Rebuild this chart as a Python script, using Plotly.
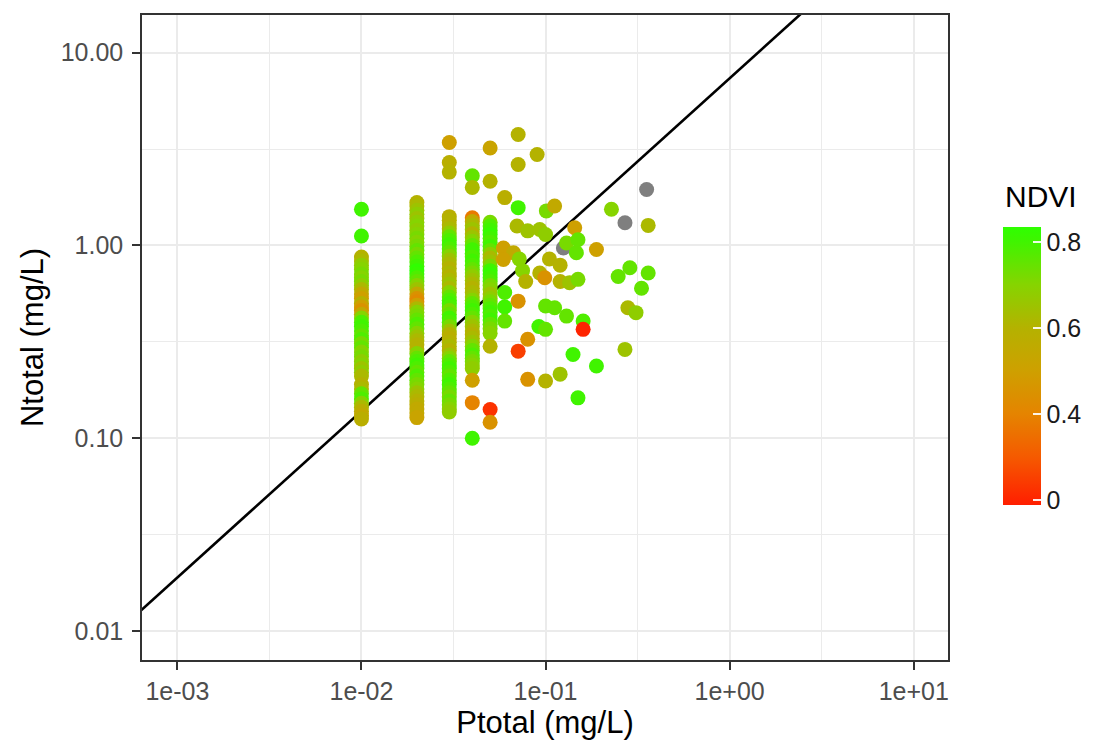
import numpy as np
import plotly.graph_objects as go

# ---------------- data ----------------
# vertical "columns" of samples at fixed Ptotal values: (Ntotal, NDVI)
col_p001 = [(1.54, 0.8), (1.12, 0.8),
            (0.87, 0.6), (0.83, 0.62), (0.79, 0.68), (0.75, 0.7), (0.71, 0.72), (0.68, 0.7),
            (0.65, 0.72), (0.62, 0.68), (0.59, 0.62), (0.56, 0.55), (0.53, 0.5), (0.50, 0.6),
            (0.48, 0.5), (0.46, 0.45), (0.44, 0.55), (0.42, 0.7), (0.40, 0.78), (0.38, 0.8),
            (0.36, 0.78), (0.34, 0.75), (0.325, 0.78), (0.31, 0.72), (0.295, 0.75), (0.28, 0.7),
            (0.265, 0.72), (0.25, 0.68), (0.24, 0.7), (0.23, 0.65), (0.22, 0.68), (0.21, 0.62),
            (0.19, 0.6), (0.18, 0.62), (0.17, 0.75), (0.16, 0.78), (0.152, 0.7), (0.145, 0.62),
            (0.138, 0.58), (0.131, 0.55), (0.126, 0.58)]

col_p002 = [(1.67, 0.6), (1.6, 0.62), (1.52, 0.65), (1.45, 0.68), (1.38, 0.65), (1.32, 0.68),
            (1.26, 0.7), (1.2, 0.68), (1.14, 0.7), (1.09, 0.72), (1.04, 0.7), (0.99, 0.72),
            (0.94, 0.75), (0.9, 0.72), (0.86, 0.75), (0.82, 0.78), (0.78, 0.8), (0.74, 0.83),
            (0.71, 0.82), (0.68, 0.78), (0.65, 0.75), (0.62, 0.7), (0.59, 0.65), (0.56, 0.55),
            (0.53, 0.45), (0.51, 0.42), (0.49, 0.5), (0.47, 0.62), (0.45, 0.7), (0.43, 0.72),
            (0.41, 0.75), (0.39, 0.78), (0.37, 0.75), (0.35, 0.7), (0.335, 0.65), (0.32, 0.62),
            (0.305, 0.6), (0.29, 0.6), (0.275, 0.7), (0.26, 0.75), (0.25, 0.78), (0.24, 0.8),
            (0.23, 0.78), (0.22, 0.75), (0.21, 0.78), (0.2, 0.75), (0.19, 0.72), (0.18, 0.7),
            (0.172, 0.65), (0.164, 0.62), (0.156, 0.6), (0.149, 0.58), (0.142, 0.55),
            (0.135, 0.55), (0.128, 0.52)]

col_p003 = [(3.42, 0.5), (2.69, 0.58), (2.4, 0.6),
            (1.41, 0.58), (1.35, 0.6), (1.28, 0.6), (1.22, 0.62), (1.16, 0.68), (1.11, 0.75),
            (1.06, 0.78), (1.01, 0.8), (0.96, 0.78), (0.92, 0.75), (0.88, 0.7), (0.84, 0.65),
            (0.8, 0.62), (0.76, 0.6), (0.72, 0.62), (0.69, 0.6), (0.66, 0.62), (0.63, 0.65),
            (0.6, 0.62), (0.57, 0.7), (0.54, 0.75), (0.52, 0.78), (0.5, 0.8), (0.48, 0.78),
            (0.46, 0.72), (0.44, 0.75), (0.42, 0.8), (0.4, 0.78), (0.38, 0.72), (0.36, 0.65),
            (0.345, 0.6), (0.33, 0.58), (0.315, 0.6), (0.3, 0.62), (0.285, 0.6), (0.27, 0.65),
            (0.26, 0.7), (0.25, 0.75), (0.24, 0.78), (0.23, 0.8), (0.22, 0.78), (0.21, 0.75),
            (0.2, 0.78), (0.19, 0.8), (0.18, 0.78), (0.172, 0.75), (0.164, 0.72), (0.156, 0.75),
            (0.149, 0.72), (0.142, 0.7), (0.137, 0.68)]

col_p004 = [(2.3, 0.75), (2.0, 0.62), (1.39, 0.35),
            (1.33, 0.55), (1.27, 0.62), (1.21, 0.65), (1.15, 0.6), (1.1, 0.65), (1.05, 0.7),
            (1.0, 0.75), (0.95, 0.8), (0.91, 0.8), (0.87, 0.78), (0.83, 0.8), (0.79, 0.78),
            (0.75, 0.75), (0.72, 0.72), (0.69, 0.68), (0.66, 0.65), (0.63, 0.62), (0.6, 0.6),
            (0.57, 0.62), (0.54, 0.65), (0.52, 0.7), (0.5, 0.75), (0.48, 0.78), (0.46, 0.8),
            (0.44, 0.78), (0.42, 0.75), (0.4, 0.7), (0.38, 0.65), (0.36, 0.62), (0.345, 0.6),
            (0.33, 0.62), (0.315, 0.65), (0.3, 0.7), (0.285, 0.75), (0.27, 0.78), (0.26, 0.75),
            (0.25, 0.72), (0.24, 0.7), (0.23, 0.68),
            (0.2, 0.5), (0.153, 0.4), (0.10, 0.8)]

col_p005 = [(3.2, 0.52), (2.15, 0.6),
            (1.32, 0.72), (1.26, 0.78), (1.2, 0.8), (1.14, 0.82), (1.09, 0.8), (1.04, 0.78),
            (0.99, 0.8), (0.94, 0.75), (0.9, 0.68), (0.86, 0.62), (0.82, 0.65), (0.78, 0.72),
            (0.74, 0.8), (0.71, 0.82), (0.68, 0.8), (0.65, 0.78), (0.62, 0.72), (0.59, 0.7),
            (0.56, 0.65), (0.53, 0.68), (0.51, 0.72), (0.49, 0.75), (0.47, 0.78), (0.45, 0.8),
            (0.43, 0.78), (0.41, 0.8), (0.39, 0.75), (0.37, 0.72), (0.35, 0.7),
            (0.30, 0.6), (0.141, 0.05), (0.121, 0.45)]

columns = {0.01: col_p001, 0.02: col_p002, 0.03: col_p003, 0.04: col_p004, 0.05: col_p005}

# scattered samples: (Ptotal, Ntotal, NDVI)
scattered = [(0.071, 3.76, 0.6), (0.09, 2.96, 0.6), (0.071, 2.63, 0.6), (0.06, 1.77, 0.58),
             (0.071, 1.57, 0.8), (0.101, 1.51, 0.72), (0.112, 1.6, 0.55), (0.228, 1.54, 0.7),
             (0.361, 1.27, 0.62), (0.07, 1.26, 0.62), (0.08, 1.19, 0.65), (0.093, 1.21, 0.65),
             (0.1, 1.14, 0.68), (0.144, 1.235, 0.5), (0.13, 1.03, 0.72), (0.15, 1.07, 0.75),
             (0.147, 0.917, 0.75), (0.189, 0.953, 0.5), (0.059, 0.97, 0.5), (0.067, 0.917, 0.55),
             (0.059, 0.846, 0.5), (0.072, 0.85, 0.7), (0.105, 0.85, 0.6), (0.12, 0.79, 0.6),
             (0.075, 0.74, 0.7), (0.06, 0.57, 0.78), (0.06, 0.48, 0.8), (0.093, 0.72, 0.6),
             (0.078, 0.65, 0.6), (0.099, 0.68, 0.45), (0.12, 0.65, 0.6), (0.135, 0.64, 0.65),
             (0.15, 0.667, 0.72), (0.248, 0.69, 0.75), (0.287, 0.766, 0.75), (0.332, 0.60, 0.75),
             (0.361, 0.72, 0.75), (0.28, 0.475, 0.62), (0.31, 0.448, 0.68), (0.071, 0.514, 0.45),
             (0.1, 0.485, 0.75), (0.112, 0.475, 0.75), (0.13, 0.43, 0.75), (0.092, 0.38, 0.8),
             (0.1, 0.367, 0.75), (0.16, 0.405, 0.78), (0.16, 0.367, 0.0), (0.08, 0.326, 0.45),
             (0.071, 0.283, 0.1), (0.06, 0.405, 0.75), (0.141, 0.272, 0.8), (0.27, 0.289, 0.65),
             (0.189, 0.237, 0.8), (0.08, 0.202, 0.45), (0.1, 0.198, 0.6), (0.12, 0.215, 0.65),
             (0.15, 0.162, 0.8)]

# samples with missing NDVI (drawn grey)
na_ptotal = [0.354, 0.27, 0.125]
na_ntotal = [1.95, 1.31, 0.97]

# reference line in log10 space: log10(N) = intercept + slope * log10(P)
line_intercept = 0.867
line_slope = 0.863

# colour-bar tick labels and their (non-linear) scale positions
ndvi_ticks = [0.0, 0.4, 0.6, 0.8]
ndvi_tick_text = ["0", "0.4", "0.6", "0.8"]

x_tickvals = [1e-3, 1e-2, 1e-1, 1e0, 1e1]
x_ticktext = ["1e-03", "1e-02", "1e-01", "1e+00", "1e+01"]
y_tickvals = [0.01, 0.1, 1.0, 10.0]
y_ticktext = ["0.01", "0.10", "1.00", "10.00"]

# ---------------- assemble ----------------
ptotal, ntotal, ndvi = [], [], []
for p, pts in columns.items():
    for n, v in pts:
        ptotal.append(p); ntotal.append(n); ndvi.append(v)
for p, n, v in scattered:
    ptotal.append(p); ntotal.append(n); ndvi.append(v)

# non-linear colour scale: 0, 0.4, 0.6, 0.8 equally spaced on the bar
def ndvi_pos(v):
    return np.interp(v, [-0.4, 0.0, 0.4, 0.6, 0.8, 1.0], [-1, 0, 1, 2, 3, 4])

cpos = ndvi_pos(np.array(ndvi))
tick_pos = [float(ndvi_pos(t)) for t in ndvi_ticks]
cmin, cmax = -0.06, 3.17

colorscale = [
    [0.0, "#FF1E00"],
    [0.173, "#F55A00"],
    [0.328, "#E58400"],
    [0.483, "#CEA000"],
    [0.638, "#B4B200"],
    [0.793, "#86D400"],
    [0.947, "#40F400"],
    [1.0, "#2EFF00"],
]

FONT = "Liberation Sans, Arial, sans-serif"

# plot-area geometry (pixels) used to place the colour-bar title
PL, PR, PT, PB = 142, 948, 15, 660

fig = go.Figure()

# reference line
lx = np.array([10 ** -3.4, 10 ** 1.4])
ly = 10 ** (line_intercept + line_slope * np.log10(lx))
fig.add_trace(go.Scatter(x=lx, y=ly, mode="lines",
                         line=dict(color="black", width=2.6),
                         hoverinfo="skip", showlegend=False))

# grey samples (NDVI missing)
fig.add_trace(go.Scatter(x=na_ptotal, y=na_ntotal, mode="markers", showlegend=False,
                         marker=dict(size=15, color="#7F7F7F", line=dict(width=0))))

fig.add_trace(go.Scatter(
    x=ptotal, y=ntotal, mode="markers", showlegend=False,
    marker=dict(
        size=15, color=cpos, colorscale=colorscale, cmin=cmin, cmax=cmax,
        line=dict(width=0), opacity=1,
        colorbar=dict(
            xref="container", x=1003 / 1120, xanchor="left",
            yref="container", y=1 - 262 / 744, yanchor="top",
            lenmode="pixels", len=278, thicknessmode="pixels", thickness=38,
            xpad=0, ypad=0, outlinewidth=0,
            tickmode="array", tickvals=tick_pos, ticktext=ndvi_tick_text,
            ticks="inside", ticklen=8, tickwidth=2, tickcolor="rgba(255,255,255,0.9)",
            tickfont=dict(size=25, color="#1A1A1A", family=FONT),
        ),
    ),
))

axis_common = dict(
    type="log", showline=True, mirror=True, linecolor="#333333", linewidth=1.5,
    ticks="outside", ticklen=8, tickwidth=2, tickcolor="#333333",
    showgrid=True, gridcolor="#EBEBEB", gridwidth=2, zeroline=False,
    tickfont=dict(size=25, color="#4D4D4D", family=FONT),
    automargin=False,
)

fig.update_xaxes(**axis_common, range=[-3.192, 1.186],
                 tickmode="array", tickvals=x_tickvals, ticktext=x_ticktext,
                 minor=dict(tickmode="array", tickvals=[10 ** -2.5, 10 ** -1.5, 10 ** -0.5, 10 ** 0.5],
                            showgrid=True, gridcolor="#EBEBEB", gridwidth=1, ticks=""),
                 title=dict(text="Ptotal (mg/L)", standoff=4,
                            font=dict(size=31, color="black", family=FONT)))
fig.update_yaxes(**axis_common, range=[-2.150, 1.195],
                 tickmode="array", tickvals=y_tickvals, ticktext=y_ticktext,
                 ticklabelstandoff=4,
                 minor=dict(tickmode="array", tickvals=[10 ** -1.5, 10 ** -0.5, 10 ** 0.5],
                            showgrid=True, gridcolor="#EBEBEB", gridwidth=1, ticks=""),
                 title=dict(text="Ntotal (mg/L)", standoff=8,
                            font=dict(size=31, color="black", family=FONT)))

fig.update_layout(
    width=1120, height=744, autosize=False,
    margin=dict(l=PL, r=1120 - PR, t=PT, b=744 - PB, pad=0),
    plot_bgcolor="white", paper_bgcolor="white",
    font=dict(family=FONT),
    showlegend=False,
    annotations=[dict(
        text="NDVI", xref="paper", yref="paper",
        x=(1003 - PL) / (PR - PL), y=(PB - 196) / (PB - PT),
        xanchor="left", yanchor="middle", showarrow=False,
        font=dict(size=30, color="black", family=FONT),
    )],
)

fig.write_html("out.html")
